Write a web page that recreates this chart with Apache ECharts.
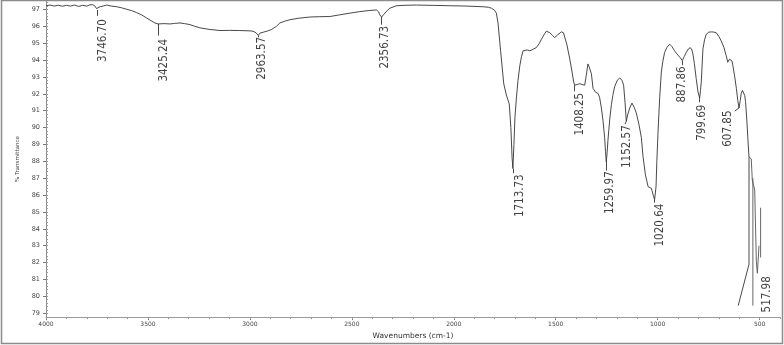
<!DOCTYPE html>
<html>
<head>
<meta charset="utf-8">
<script src="https://cdn.jsdelivr.net/npm/echarts@6/dist/echarts.min.js"></script>
<style>html,body{margin:0;padding:0;background:#fff}#c{width:784px;height:345px}</style>
</head>
<body>
<div id="c"></div>
<script>
// ---- Data ----
const wavenumbers = [4000,3980,3960,3940,3920,3900,3880,3860,3840,3820,3800,3785,3770,3760,3752,3749,3745,3735,3720,3702,3680,3653,3630,3604,3580,3555,3530,3506,3480,3466,3450,3420,3392,3370,3343,3320,3294,3270,3245,3200,3147,3100,3049,3000,2985,2970,2959,2950,2935,2914,2894,2870,2853,2830,2804,2760,2706,2660,2608,2559,2510,2461,2420,2379,2368,2363,2354,2345,2338,2325,2314,2281,2230,2183,2100,2020,1940,1856,1830,1815,1800,1791,1783,1770,1755,1742,1728,1720,1714,1710,1705,1700,1693,1685,1676,1668,1660,1640,1627,1610,1595,1580,1570,1555,1546,1538,1529,1515,1505,1490,1472,1462,1456,1445,1431,1420,1412,1407,1395,1382,1370,1358,1350,1342,1336,1325,1317,1305,1293,1285,1276,1268,1260,1256,1252,1248,1244,1235,1227,1220,1211,1198,1186,1175,1167,1160,1154,1146,1137,1126,1115,1105,1092,1080,1072,1060,1047,1038,1031,1022,1015,1008,1004,998,990,982,975,966,955,941,930,917,908,900,890,879,870,860,850,840,832,827,820,811,802,794,790,786,782,778,770,762,750,737,725,713,700,688,675,664,656,648,642,636,631,622,614,607,601,595,590,584,578,573,569,563,558,552,552,605];
const transmittance = [97.22,97.26,97.20,97.25,97.19,97.24,97.20,97.26,97.18,97.24,97.20,97.27,97.28,97.20,97.05,96.98,97.10,97.16,97.20,97.26,97.20,97.16,97.10,97.01,96.93,96.81,96.67,96.49,96.30,96.20,96.14,96.16,96.14,96.17,96.20,96.16,96.10,96.00,95.91,95.82,95.75,95.76,95.75,95.73,95.71,95.62,95.46,95.60,95.65,95.72,95.81,96.00,96.20,96.30,96.39,96.48,96.55,96.57,96.58,96.68,96.78,96.87,96.93,96.97,96.85,96.68,96.55,96.68,96.78,96.95,97.07,97.22,97.25,97.26,97.24,97.22,97.20,97.16,97.13,97.07,96.95,96.78,96.20,94.50,92.60,91.93,91.40,90.00,88.20,87.57,89.00,90.60,91.74,92.80,93.67,94.20,94.55,94.60,94.55,94.65,94.74,95.00,95.23,95.55,95.71,95.68,95.62,95.45,95.33,95.50,95.67,95.62,95.52,94.90,94.06,93.30,92.70,92.51,92.55,92.60,92.55,92.51,93.10,93.77,93.60,93.19,92.32,92.10,92.03,91.80,91.16,90.40,89.41,88.60,87.96,88.50,89.22,90.50,91.35,91.90,92.42,92.80,92.94,92.80,92.51,91.50,90.38,90.80,91.16,91.45,91.20,90.87,90.20,89.41,88.30,87.20,86.50,86.45,86.40,86.00,85.73,86.50,88.00,89.80,91.80,93.29,93.90,94.45,94.75,94.94,94.80,94.55,94.40,94.35,94.15,93.97,94.20,94.45,94.65,94.74,94.60,94.35,93.80,92.90,92.10,91.74,92.20,92.71,93.70,94.65,95.20,95.52,95.65,95.67,95.66,95.62,95.40,95.13,94.75,94.26,93.87,94.05,94.16,93.95,93.67,93.00,92.32,91.60,91.16,91.60,92.03,92.20,92.13,91.90,91.54,90.50,89.41,88.25,81.90,79.45];

// extra trace fragments near the low-wavenumber end
const fragAWn = [552,545,541,536,533,529,524,516,511,503];
const fragAT  = [88.25,88.30,88.15,86.90,87.00,87.00,86.30,82.05,81.37,83.00];
const fragBWn = [533,533];
const fragBT  = [87.00,79.45];
const fragCWn = [495,495];
const fragCT  = [85.25,82.30];

// peak annotations
const peakLabels = ['3746.70','3425.24','2963.57','2356.73','1713.73','1408.25','1259.97','1152.57','1020.64','887.86','799.69','607.85','517.98'];
const peakWn  = [3749,3450,2959,2354,1710,1407,1252,1154,1015,879,794,601,null];
const peakT   = [96.97,96.14,95.46,96.55,87.57,92.51,87.96,90.38,85.73,93.97,91.74,91.16,null];
const leadWn  = [3749,3450,2959,2354,1710,1407,1252,1160,1015,879,794,622,null];
const leadT   = [96.62,95.45,95.35,96.10,87.30,92.15,87.45,90.20,85.55,93.70,91.50,90.98,null];
const labelWn = [3745,3446,2966,2363,1701,1407,1260,1176,1015,908,810,683,490];
const labelT  = [96.39,95.23,95.34,96.00,87.20,92.03,87.38,90.11,85.46,93.60,91.33,90.98,81.16];

// axis ticks
const xTickValues = [4000,3500,3000,2500,2000,1500,1000,500];
const yTickValues = [79,80,81,82,83,84,85,86,87,88,89,90,91,92,93,94,95,96,97];
const xMinorTicks = [];
for (let v = 400; v <= 4000; v += 100) xMinorTicks.push(v);
const yMinorTicks = [];
for (let i = 790; i <= 975; i += 2) yMinorTicks.push(i / 10);

// ---- Build ----
const zip = (a, b) => a.map((v, i) => [v, b[i]]);
const lineColor = '#333';
const labelFont = "'DejaVu Sans Condensed','Liberation Sans Narrow',sans-serif";
const axisFont = "'DejaVu Sans',Verdana,sans-serif";

const leaders = [];
peakWn.forEach((w, i) => {
  if (w !== null) leaders.push({ coords: [[w, peakT[i]], [leadWn[i], leadT[i]]] });
});

const chart = echarts.init(document.getElementById('c'), null, { renderer: 'canvas' });
const X_MIN = 400, X_MAX = 4000, Y_MIN = 78.77, Y_MAX = 97.5;

chart.setOption({
  animation: false,
  backgroundColor: '#fff',
  grid: { left: 46, right: 4, top: 1, bottom: 22, containLabel: false },
  graphic: [{
    type: 'rect', silent: true, z: 100,
    shape: { x: 1.5, y: 0.5, width: 781, height: 343 },
    style: { fill: 'none', stroke: '#8c8c8c', lineWidth: 1.5 }
  }],
  xAxis: [{
    type: 'value', inverse: true, min: X_MIN, max: X_MAX, position: 'bottom',
    name: 'Wavenumbers (cm-1)', nameLocation: 'middle', nameGap: 10,
    nameTextStyle: { fontSize: 7.5, color: '#333', fontFamily: axisFont },
    axisLine: { lineStyle: { color: '#9a9a9a', width: 1 } },
    axisTick: { show: true, customValues: xTickValues, length: 3, lineStyle: { color: '#777' } },
    axisLabel: { customValues: xTickValues, formatter: v => String(v), fontSize: 6, color: '#444', margin: 4, fontFamily: axisFont },
    splitLine: { show: false }
  }, {
    type: 'value', inverse: true, min: X_MIN, max: X_MAX, position: 'bottom', gridIndex: 0,
    axisLine: { show: false },
    axisTick: { show: true, customValues: xMinorTicks, length: 2, lineStyle: { color: '#999' } },
    axisLabel: { show: false }, splitLine: { show: false }
  }],
  yAxis: [{
    type: 'value', min: Y_MIN, max: Y_MAX, position: 'left',
    name: '% Transmittance', nameLocation: 'middle', nameGap: 14,
    nameTextStyle: { fontSize: 5.5, color: '#444', fontFamily: axisFont },
    axisLine: { show: true, lineStyle: { color: '#8a8a8a', width: 1 } },
    axisTick: { show: true, customValues: yTickValues, length: 3, lineStyle: { color: '#777' } },
    axisLabel: { customValues: yTickValues, formatter: v => String(v), fontSize: 6.5, color: '#444', margin: 6, fontFamily: axisFont },
    splitLine: { show: false }
  }, {
    type: 'value', min: Y_MIN, max: Y_MAX, position: 'left',
    axisLine: { show: false },
    axisTick: { show: true, inside: true, customValues: yMinorTicks, length: 2, lineStyle: { color: '#999' } },
    axisLabel: { show: false }, splitLine: { show: false }
  }],
  series: [
    { type: 'line', data: zip(wavenumbers, transmittance), showSymbol: false, symbol: 'none',
      lineStyle: { color: lineColor, width: 0.9 }, z: 3 },
    { type: 'line', data: zip(fragAWn, fragAT), symbol: 'none', lineStyle: { color: '#555', width: 0.9 } },
    { type: 'line', data: zip(fragBWn, fragBT), symbol: 'none', lineStyle: { color: '#555', width: 0.9 } },
    { type: 'line', data: zip(fragCWn, fragCT), symbol: 'none', lineStyle: { color: '#555', width: 0.9 } },
    { type: 'lines', coordinateSystem: 'cartesian2d', polyline: false, data: leaders,
      lineStyle: { color: '#333', width: 0.9, opacity: 1 }, silent: true },
    { type: 'scatter', symbolSize: 1, itemStyle: { color: 'transparent' }, silent: true,
      data: labelWn.map((w, i) => ({ value: [w, labelT[i]], name: peakLabels[i] })),
      label: {
        show: true, position: [0, 0], rotate: 90, align: 'right', verticalAlign: 'top',
        formatter: p => p.name, fontSize: 11.5, color: '#111', fontFamily: labelFont
      }
    }
  ]
});
</script>
</body>
</html>
